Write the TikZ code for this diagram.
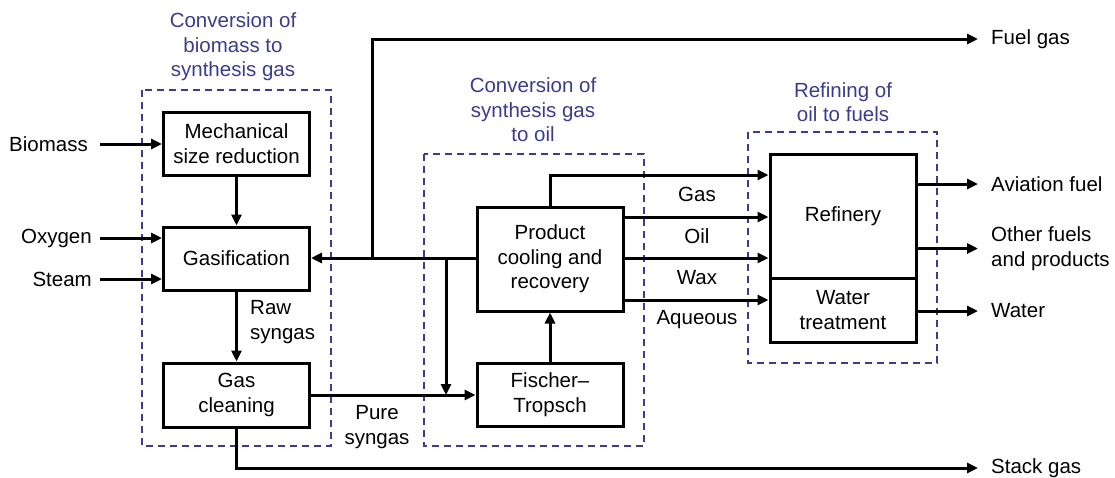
\documentclass[tikz,border=0pt]{standalone}
\usepackage{fontspec}
\setmainfont{Liberation Sans}
\usetikzlibrary{arrows.meta,calc}
\definecolor{grpblue}{HTML}{3C3C8E}
\begin{document}
\begin{tikzpicture}[x=1pt,y=-1pt,
  font=\fontsize{20.5}{24.5}\selectfont,
  box/.style={draw,line width=3pt,align=center,inner sep=0pt,minimum width=146pt},
  lbl/.style={inner sep=0pt,align=left},
  inlbl/.style={anchor=east,inner xsep=8pt,inner ysep=0pt},
  outlbl/.style={anchor=west,inner xsep=13pt,inner ysep=0pt,align=left},
  conn/.style={line width=3pt},
  arr/.style={line width=3pt,-{Triangle[length=11pt,width=10pt]}},
  group/.style={draw=grpblue,line width=1.4pt,dash pattern=on 7pt off 5pt},
  gtitle/.style={text=grpblue,align=center,inner sep=0pt}]
\useasboundingbox (0,0) rectangle (1115,477);

% group boxes
\draw[group] (142,90) rectangle (331,446);
\draw[group] (424,154) rectangle (644,446);
\draw[group] (748,132) rectangle (937,363);
\node[gtitle] (t1) at (233,47) {Conversion of\\biomass to\\synthesis gas};
\node[gtitle] (t2) at (533,110) {Conversion of\\synthesis gas\\to oil};
\node[gtitle] (t3) at (843,102) {Refining of\\oil to fuels};

% process boxes
\node[box,minimum height=63pt] (mech) at (236.5,143.5) {Mechanical\\size reduction};
\node[box,minimum height=63pt] (gasif) at (236.5,258.5) {Gasification};
\node[box,minimum height=64pt] (clean) at (236.5,395) {Gas\\cleaning};
\node[box,minimum height=104pt] (pcr) at (550,259) {Product\\cooling and\\recovery};
\node[box,minimum height=63pt] (ft) at (550,394.5) {Fischer–\\Tropsch};
\node[box,minimum height=124pt] (ref) at (843,216) {Refinery};
\node[box,minimum height=64pt] (wt) at (843,310) {Water\\treatment};

% inputs
\node[inlbl,inner xsep=12pt] (biomass) at (100,144) {Biomass};
\node[inlbl] (oxygen) at (100,238) {Oxygen};
\node[inlbl] (steam) at (100,279) {Steam};
\draw[arr] (biomass.east) -- (biomass.east -| mech.west);
\draw[arr] (oxygen.east) -- (oxygen.east -| gasif.west);
\draw[arr] (steam.east) -- (steam.east -| gasif.west);

% outputs
\node[outlbl] (fuel) at (978,39) {Fuel gas};
\node[outlbl] (stack) at (978,468) {Stack gas};
\node[outlbl] (avi) at (978,184) {Aviation fuel};
\node[outlbl] (other) at (978,248.5) {Other fuels\\and products};
\node[outlbl] (water) at (978,311) {Water};

% main chain
\draw[arr] (mech) -- (gasif);
\draw[arr] (gasif) -- (clean);
\node[lbl,anchor=west] (raw) at (250,322) {Raw\\syngas};
\draw[arr] (clean.east) -- (clean.east -| ft.west);
\node[lbl,align=center] (pure) at (377,427) {Pure\\syngas};
\draw[arr] (clean.south) |- (stack.west);

% recycle
\coordinate (j1) at (446,258);
\coordinate (j2) at (446,395);
\coordinate (j3) at (372,258);
\draw[arr] (pcr.west |- j1) -- (gasif.east |- j1);
\draw[arr] (j1) -- (j2);
\draw[arr] (j3) |- (fuel.west);
\draw[arr] (ft) -- (pcr);

% product streams
\coordinate (ygas) at (0,175);
\coordinate (yoil) at (0,217);
\coordinate (ywax) at (0,258);
\coordinate (yaq) at (0,300);
\draw[arr] (pcr.north) |- (ref.west |- ygas);
\draw[arr] (pcr.east |- yoil) -- (ref.west |- yoil);
\draw[arr] (pcr.east |- ywax) -- (ref.west |- ywax);
\draw[arr] (pcr.east |- yaq) -- (wt.west |- yaq);
\node[lbl] (lgas) at (697,194) {Gas};
\node[lbl] (loil) at (697,236) {Oil};
\node[lbl] (lwax) at (697,278) {Wax};
\node[lbl] (laq) at (697,320) {Aqueous};

\draw[arr] (ref.east |- avi.west) -- (avi.west);
\draw[arr] (ref.east |- other.west) -- (other.west);
\draw[arr] (wt.east |- water.west) -- (water.west);
\end{tikzpicture}
\end{document}
